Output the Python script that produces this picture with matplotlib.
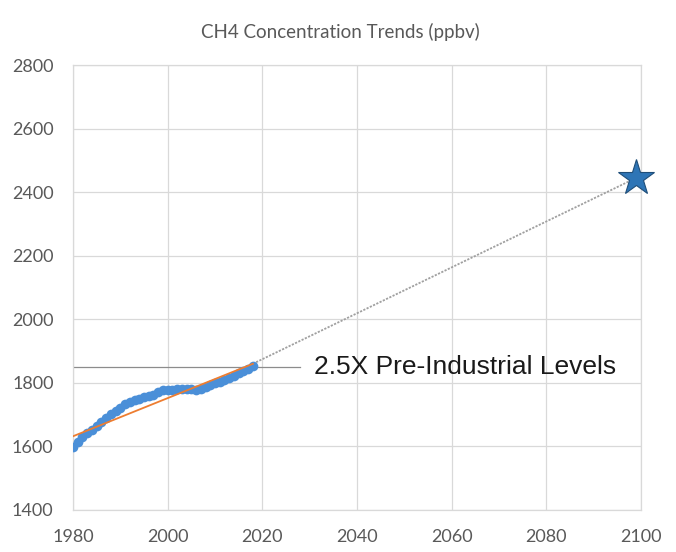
import matplotlib
matplotlib.use('Agg')
import matplotlib.pyplot as plt

# CH4 annual readings (ppbv)
years = list(range(1980, 2019))
ch4 = [1598, 1615, 1630, 1642, 1652, 1665, 1677, 1690, 1702, 1712,
       1722, 1732, 1740, 1745, 1750, 1754, 1758, 1763, 1770, 1776,
       1778, 1779, 1780, 1782, 1782, 1780, 1778, 1780, 1786, 1792,
       1798, 1803, 1808, 1815, 1822, 1830, 1838, 1845, 1852]

# linear trend over the measured period
trend_years = [1980, 2018]
trend_values = [1632, 1860]

# projection out to 2100
proj_years = [2018, 2099]
proj_values = [1860, 2445]

# reference level
ref_level = 1850
ref_span = [1980, 2028]
ref_label = '2.5X Pre-Industrial Levels'

x_ticks = [1980, 2000, 2020, 2040, 2060, 2080, 2100]
y_ticks = [1400, 1600, 1800, 2000, 2200, 2400, 2600, 2800]

tick_color = '#595959'
grid_color = '#D9D9D9'

fig = plt.figure(figsize=(6.76, 5.52), dpi=100)
ax = fig.add_axes([73 / 676, 1 - 510 / 552, (641 - 73) / 676, (510 - 65) / 552])

ax.set_xlim(1980, 2100)
ax.set_ylim(1400, 2800)
ax.set_xticks(x_ticks)
ax.set_yticks(y_ticks)
ax.grid(True, color=grid_color, linewidth=0.9)
ax.set_axisbelow(True)
for s in ax.spines.values():
    s.set_color(grid_color)
    s.set_linewidth(0.9)
ax.tick_params(length=0, labelsize=13, labelcolor=tick_color)
ax.tick_params(axis='x', pad=14)
ax.tick_params(axis='y', pad=14)
for lbl in ax.get_xticklabels() + ax.get_yticklabels():
    lbl.set_family('Lato')

# reference line + label
ax.plot(ref_span, [ref_level, ref_level], color='#8C8C8C', linewidth=0.9, zorder=2)
ax.text(2031, ref_level, ref_label, fontsize=19, family='Liberation Sans',
        color='#1A1A1A', va='center', ha='left')

# projection
ax.plot(proj_years, proj_values, color='#A0A0A0', linewidth=1.3,
        linestyle=(0, (1.2, 0.8)), zorder=3)

# data
ax.plot(years, ch4, linestyle='none', marker='o', markersize=7,
        color='#4A8FD8', markeredgewidth=0, zorder=4)

# trend
ax.plot(trend_years, trend_values, color='#ED7D31', linewidth=1.3, zorder=5)

# 2100 target
ax.plot([proj_years[-1]], [proj_values[-1]], marker='*', markersize=27,
        color='#2E75B6', markeredgecolor='#1F4E79', markeredgewidth=0.8,
        clip_on=False, zorder=6)

fig.text(340 / 676, 1 - 32 / 552, 'CH4 Concentration Trends (ppbv)',
         ha='center', va='center', fontsize=13.5, color=tick_color, family='Lato')

fig.savefig('out.png', dpi=100)
